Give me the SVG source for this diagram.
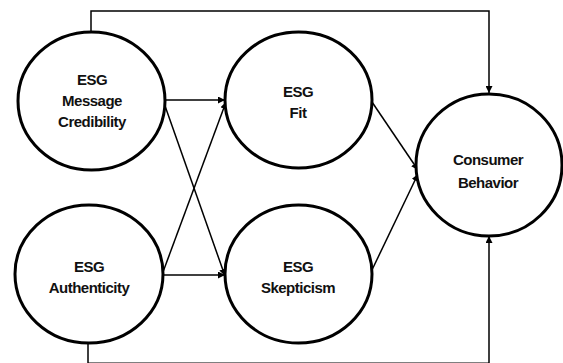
<svg xmlns="http://www.w3.org/2000/svg" width="563" height="363" viewBox="0 0 563 363">
<style>
.node{fill:#fff;stroke:#000;stroke-width:3}
.lbl{font-family:"Liberation Sans",Arial,sans-serif;font-size:15px;font-weight:bold;letter-spacing:-0.5px;text-anchor:middle;fill:#111}
.conn{fill:none;stroke:#000;stroke-width:1.5}
</style>
<defs>
<marker id="ah" viewBox="0 0 10 10" refX="10" refY="5" markerWidth="7" markerHeight="7" markerUnits="userSpaceOnUse" orient="auto">
<path d="M0,0 L10,5 L0,10 z" fill="#000"/>
</marker>
</defs>
<rect width="563" height="363" fill="#fff"/>
<g id="connectors">
<polyline class="conn" points="91,31 91,11 489,11 489,93" marker-end="url(#ah)"/>
<polyline class="conn" points="88,344 88,363.3 489,363.3 489,236" marker-end="url(#ah)"/>
<line class="conn" x1="165" y1="100" x2="225" y2="100" marker-end="url(#ah)"/>
<line class="conn" x1="164" y1="103" x2="225" y2="276" marker-end="url(#ah)"/>
<line class="conn" x1="163" y1="272" x2="226" y2="102" marker-end="url(#ah)"/>
<line class="conn" x1="163" y1="275" x2="225" y2="275" marker-end="url(#ah)"/>
<line class="conn" x1="372" y1="102" x2="418" y2="170" marker-end="url(#ah)"/>
<line class="conn" x1="371" y1="272" x2="418" y2="174" marker-end="url(#ah)"/>
</g>
<g id="n-credibility">
<ellipse class="node" cx="91.5" cy="101" rx="73.5" ry="69"/>
<text class="lbl" x="92" y="85">ESG</text>
<text class="lbl" x="92" y="106">Message</text>
<text class="lbl" x="92" y="127">Credibility</text>
</g>
<g id="n-fit">
<ellipse class="node" cx="298.5" cy="100" rx="73.5" ry="68"/>
<text class="lbl" x="298" y="97">ESG</text>
<text class="lbl" x="298" y="118">Fit</text>
</g>
<g id="n-authenticity">
<ellipse class="node" cx="89" cy="274" rx="74" ry="69"/>
<text class="lbl" x="89" y="272">ESG</text>
<text class="lbl" x="89" y="293">Authenticity</text>
</g>
<g id="n-skepticism">
<ellipse class="node" cx="298.5" cy="274" rx="73.5" ry="69"/>
<text class="lbl" x="298" y="272">ESG</text>
<text class="lbl" x="298" y="293">Skepticism</text>
</g>
<g id="n-consumer">
<ellipse class="node" cx="489" cy="165" rx="73" ry="71"/>
<text class="lbl" x="488" y="165">Consumer</text>
<text class="lbl" x="488" y="188">Behavior</text>
</g>
</svg>
